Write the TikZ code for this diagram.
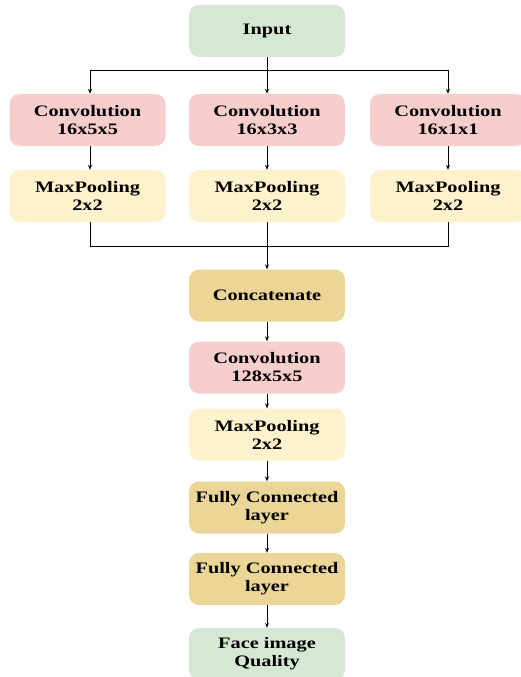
\documentclass[tikz,border=0pt]{standalone}
\usepackage{fontspec}
\setmainfont{Liberation Serif}[FakeStretch=1.27]
\usetikzlibrary{arrows.meta}
\definecolor{cgreen}{HTML}{D5E8D4}
\definecolor{cpink}{HTML}{F8CECC}
\definecolor{cyellow}{HTML}{FFF2CC}
\definecolor{ctan}{HTML}{EBD597}
\tikzset{
  blk/.style={rounded corners=10pt, minimum width=156pt, minimum height=52pt,
    inner sep=0pt, align=center, font=\fontsize{16pt}{18pt}\selectfont\bfseries},
  gbox/.style={blk, fill=cgreen},
  pbox/.style={blk, fill=cpink},
  ybox/.style={blk, fill=cyellow},
  tbox/.style={blk, fill=ctan},
  conn/.style={draw=black, line width=0.8pt},
  arr/.style={conn, -{Stealth[length=5pt,width=4pt]}}
}
\begin{document}
\begin{tikzpicture}[x=1pt,y=-1pt]
\useasboundingbox (0,0) rectangle (520,677);
\node[gbox] (in) at (267,31) {Input};
\node[pbox] (c1) at (87.5,120) {Convolution\\16x5x5};
\node[pbox] (c2) at (267,120) {Convolution\\16x3x3};
\node[pbox] (c3) at (448,120) {Convolution\\16x1x1};
\node[ybox] (m1) at (87.5,196) {MaxPooling\\2x2};
\node[ybox] (m2) at (267,196) {MaxPooling\\2x2};
\node[ybox] (m3) at (448,196) {MaxPooling\\2x2};
\node[tbox] (cat) at (267,295.5) {Concatenate};
\node[pbox] (c4) at (267,367.5) {Convolution\\128x5x5};
\node[ybox] (m4) at (267,434.5) {MaxPooling\\2x2};
\node[tbox] (f1) at (267,507.5) {Fully Connected\\layer};
\node[tbox] (f2) at (267,579) {Fully Connected\\layer};
\node[gbox] (out) at (267,654) {Face image\\Quality};
\coordinate (sl) at (90,70);
\coordinate (sm) at (267,70);
\coordinate (sr) at (448,70);
\coordinate (jl) at (90,246);
\coordinate (jm) at (267,246);
\coordinate (jr) at (448,246);
% split
\draw[conn] (in.south) -- (sm);
\draw[conn] (sl) -- (sr);
\draw[arr] (sl) -- (sl |- c1.north);
\draw[arr] (sm) -- (c2.north);
\draw[arr] (sr) -- (sr |- c3.north);
% conv -> pool
\draw[arr] (sl |- c1.south) -- (sl |- m1.north);
\draw[arr] (c2.south) -- (m2.north);
\draw[arr] (c3.south) -- (m3.north);
% join
\draw[conn] (jl |- m1.south) -- (jl) -- (jr) -- (jr |- m3.south);
\draw[conn] (m2.south) -- (jm);
\draw[arr] (jm) -- (cat.north);
% chain
\draw[arr] (cat.south) -- (c4.north);
\draw[arr] (c4.south) -- (m4.north);
\draw[arr] (m4.south) -- (f1.north);
\draw[arr] (f1.south) -- (f2.north);
\draw[arr] (f2.south) -- (out.north);
\end{tikzpicture}
\end{document}
